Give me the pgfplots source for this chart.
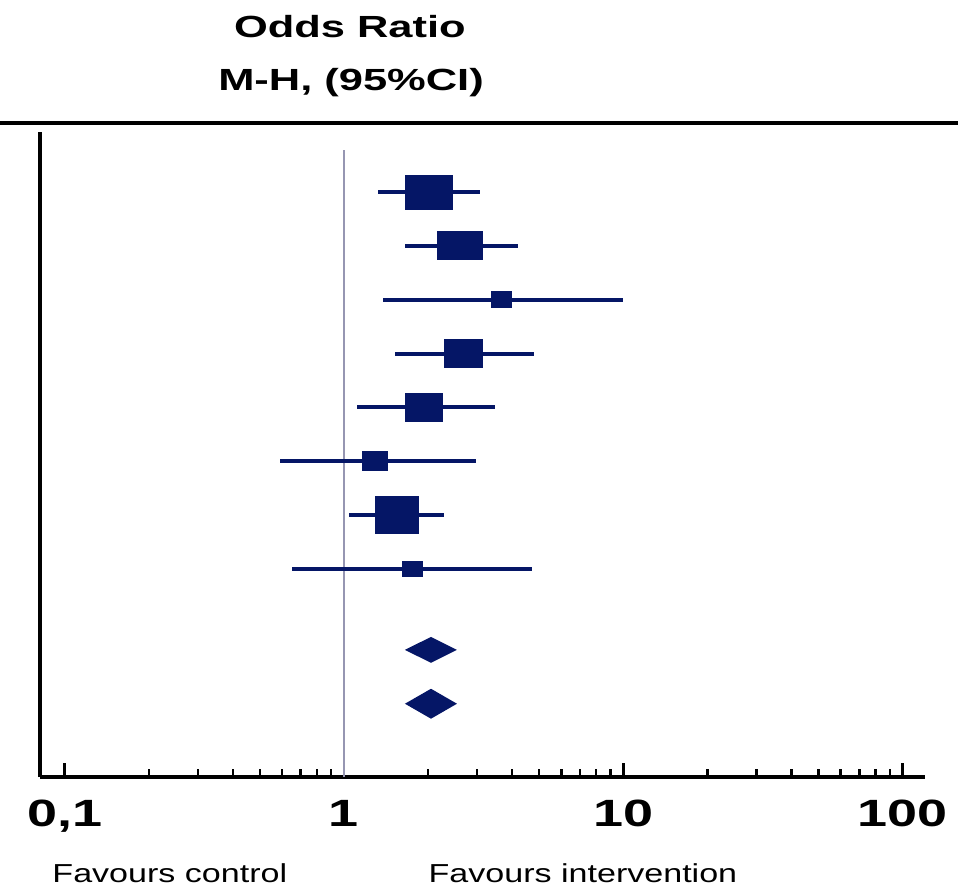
\documentclass[border=0pt]{standalone}
\usepackage{fontspec}
\setmainfont{Liberation Sans}
\newfontfamily\titlefont[FakeStretch=1.42]{Liberation Sans}
\newfontfamily\tickfont[FakeStretch=1.42]{Liberation Sans}
\newfontfamily\notefont[FakeStretch=1.31]{Liberation Sans}
\usepackage{pgfplots}
\usepackage{pgfplotstable}
\pgfplotsset{compat=1.18}

\definecolor{navy}{RGB}{5,22,102}
\definecolor{refline}{RGB}{150,150,178}

% filled box, w x h given in pixels of the reference (1px = 0.5pt)
\pgfdeclareplotmark{fbox}{%
  \pgfpathrectangle{\pgfpoint{-0.25pt*\bw}{-0.25pt*\bh}}{\pgfpoint{0.5pt*\bw}{0.5pt*\bh}}%
  \pgfusepathqfill}

% studies: odds ratio, 95% CI, box size
\pgfplotstableread{
row or    lo    hi    w  h
10  2.015 1.323 3.068 48 35
9   2.602 1.653 4.197 46 29
8   3.679 1.379 9.97  21 17
7   2.689 1.522 4.787 39 29
6   1.934 1.113 3.472 38 29
5   1.291 0.590 2.969 26 20
4   1.548 1.042 2.280 44 38
3   1.752 0.651 4.71  21 16
}\studies

\begin{document}
\begin{tikzpicture}
\begin{axis}[
    scale only axis,
    width=442.5pt, height=322.5pt,
    xmode=log,
    xmin=0.0816, xmax=120.2,
    ymin=-0.861, ymax=11.114,
    axis x line=bottom, axis y line=left,
    axis line style={-, line width=2pt, black},
    ytick=\empty,
    xtick={0.1,1,10,100},
    xticklabels={{0,1},1,10,100},
    minor xtick={0.2,0.3,0.4,0.5,0.6,0.7,0.8,0.9,2,3,4,5,6,7,8,9,20,30,40,50,60,70,80,90},
    tick align=inside,
    major tick length=7pt, minor tick length=4pt,
    every tick/.style={black, line width=1.2pt},
    xticklabel style={font=\tickfont\bfseries\fontsize{19}{19}\selectfont, inner sep=0pt, yshift=-11.5pt},
    clip=false,
]
% line of no effect
\addplot[refline, line width=1pt] coordinates {(1,-0.861) (1,10.78)};

% confidence intervals
\addplot[only marks, mark=none,
    error bars/.cd, x dir=both, x explicit, error mark=none,
    error bar style={navy, line width=2pt}]
    table[x=or, y=row,
          x error plus expr=\thisrow{hi}-\thisrow{or},
          x error minus expr=\thisrow{or}-\thisrow{lo}] {\studies};

% study boxes
\addplot[scatter, only marks, mark=fbox,
    visualization depends on={\thisrow{w} \as \bw},
    visualization depends on={\thisrow{h} \as \bh},
    scatter/@pre marker code/.code={\scope[fill=navy, draw=none]},
    scatter/@post marker code/.code={\endscope}]
    table[x=or, y=row] {\studies};

% pooled estimates
\addplot[fill=navy, draw=none] coordinates {(1.653,1.5) (2.049,1.741) (2.538,1.5) (2.049,1.259)} -- cycle;
\addplot[fill=navy, draw=none] coordinates {(1.653,0.5) (2.049,0.778) (2.538,0.5) (2.049,0.222)} -- cycle;

% header
\draw[line width=2pt] (axis cs:0.0587,11.281) -- (axis cs:157.8,11.281);
\node[font=\titlefont\bfseries\fontsize{15.3}{15.3}\selectfont] at (axis cs:1.05,13.064) {Odds Ratio};
\node[font=\titlefont\bfseries\fontsize{15.3}{15.3}\selectfont] at (axis cs:1.06,12.024) {M-H, (95\%CI)};
\node[font=\notefont\fontsize{13}{13}\selectfont] at (axis cs:0.238,-2.644) {Favours control};
\node[font=\notefont\fontsize{13}{13}\selectfont] at (axis cs:7.17,-2.644) {Favours intervention};

\coordinate (bl) at (axis cs:0.0587,-2.922);
\coordinate (tr) at (axis cs:157.8,13.565);
\end{axis}
\pgfresetboundingbox
\path (bl) rectangle (tr);
\end{tikzpicture}
\end{document}
